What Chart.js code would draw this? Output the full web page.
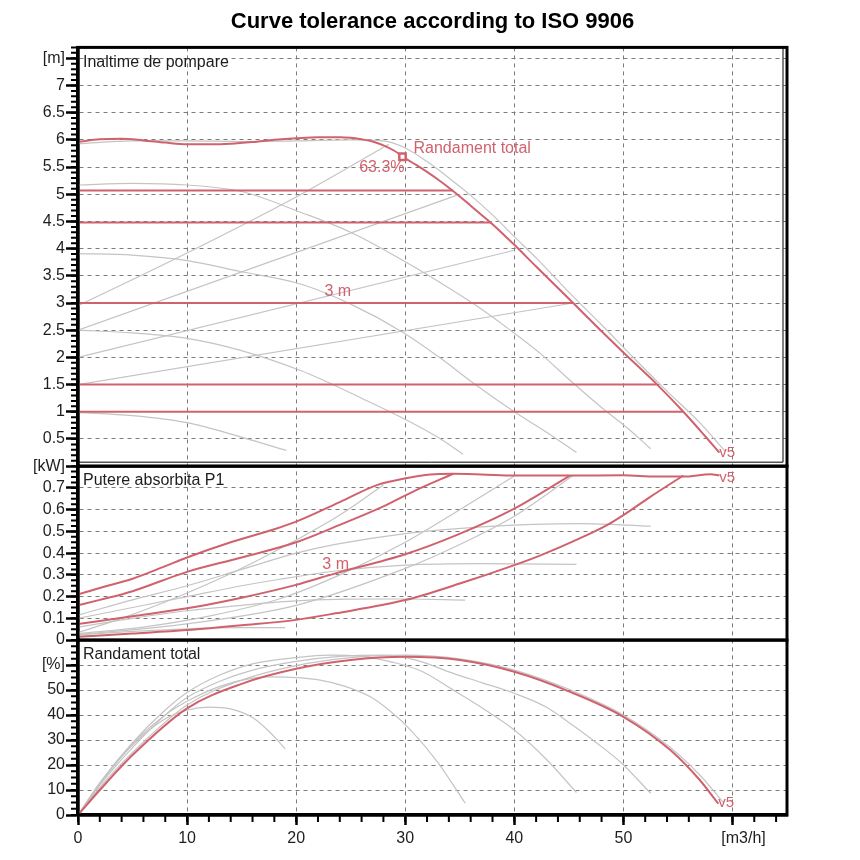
<!DOCTYPE html>
<html>
<head>
<meta charset="utf-8">
<script src="https://cdn.jsdelivr.net/npm/chart.js@4.4.1/dist/chart.umd.min.js"></script>
<style>
  body { margin: 0; background: #fff; }
  canvas { display: block; }
</style>
</head>
<body>
<canvas id="curves" width="860" height="860"></canvas>
<script>
const RED = "#d0626e";
const GRAY = "#c4c4c4";
const TEXT = "#1e1e1e";
const FONT = "'Liberation Sans', Arial, sans-serif";

// tick labels
const xTicks = [0, 10, 20, 30, 40, 50, 60];
const headTicks = [0.5, 1, 1.5, 2, 2.5, 3, 3.5, 4, 4.5, 5, 5.5, 6, 6.5, 7, 7.5];
const powerTicks = [0, 0.1, 0.2, 0.3, 0.4, 0.5, 0.6, 0.7, 0.8];
const effTicks = [0, 10, 20, 30, 40, 50, 60];

// Inaltime de pompare [m] - curba v5 (rosu) si curba reala (gri)
const qHeadV5 = [0, 2, 4, 6, 8, 10, 12, 14, 16, 18, 20, 22, 24, 25, 26, 27, 28, 29, 30, 31, 32, 33, 34, 35, 36, 37, 38, 40, 42, 45.4, 48, 50, 53.1, 55.5, 57.5, 58.8];
const headV5 = [5.96, 6.01, 6.02, 5.99, 5.95, 5.92, 5.92, 5.93, 5.96, 6.0, 6.03, 6.05, 6.05, 6.04, 6.01, 5.97, 5.9, 5.8, 5.66, 5.54, 5.41, 5.27, 5.12, 4.96, 4.79, 4.62, 4.45, 4.07, 3.67, 3.0, 2.48, 2.09, 1.5, 1.0, 0.55, 0.25];
const qHeadMax = [0, 5, 10, 15, 20, 25, 28, 30, 32, 34, 36, 38, 40, 42, 45, 48, 51, 54, 57, 59.3];
const headMax = [5.93, 5.98, 5.98, 5.97, 5.98, 6.0, 5.98, 5.85, 5.6, 5.3, 4.98, 4.62, 4.22, 3.83, 3.2, 2.6, 1.98, 1.38, 0.8, 0.28];
const qHead1 = [0, 5, 10, 14.9, 19.1];
const head1 = [0.99, 0.93, 0.8, 0.54, 0.29];
const qHead2 = [0, 5, 10, 14.9, 20.4, 22.5, 26, 30.2, 33, 35.3];
const head2 = [2.5, 2.45, 2.35, 2.13, 1.76, 1.58, 1.25, 0.84, 0.53, 0.22];
const qHead3 = [0, 5, 10, 14.9, 20.4, 25, 29.8, 33, 36.3, 40, 43, 45.7];
const head3 = [3.91, 3.88, 3.78, 3.58, 3.35, 2.98, 2.46, 2.02, 1.52, 1.0, 0.62, 0.25];
const qHead4 = [0, 5, 10, 15, 20.4, 25, 29.8, 33, 36.3, 39.5, 42.4, 45.1, 48, 50.5, 52.5];
const head4 = [5.17, 5.2, 5.17, 5.05, 4.67, 4.3, 3.78, 3.4, 2.98, 2.52, 2.07, 1.58, 1.08, 0.68, 0.32];
// curbe de sistem (gri)
const qSysA = [0, 10, 20, 28.5];
const sysA = [2.95, 3.92, 4.95, 5.92];
const qSysB = [0, 34.7];
const sysB = [2.5, 4.98];
const qSysC = [0, 40];
const sysC = [2.0, 3.97];
const qSysD = [0, 45.4];
const sysD = [1.5, 3.0];
// linii orizontale (rosu)
const levelHeads = [5.07, 4.48, 3.0, 1.5, 1.0];
const levelEnds = [34.4, 37.95, 45.4, 53.1, 55.5];
// punct de randament maxim
const bestQ = 29.75;
const bestHead = 5.69;
const bestEff = "63.3%";

// Putere absorbita P1 [kW]
const qPow1 = [0, 2, 5, 8, 10, 14, 18, 20, 24, 27.4, 30.2, 32.3, 34.4, 37, 40, 45, 50, 53, 55.5, 58, 58.8];
const pow1 = [0.21, 0.24, 0.282, 0.34, 0.38, 0.45, 0.51, 0.545, 0.635, 0.713, 0.746, 0.762, 0.765, 0.762, 0.757, 0.757, 0.758, 0.752, 0.752, 0.763, 0.757];
const qPow2 = [0, 2, 5, 10, 15, 20, 24, 28, 31, 34.4];
const pow2 = [0.16, 0.185, 0.225, 0.314, 0.38, 0.45, 0.53, 0.615, 0.69, 0.765];
const qPow3 = [0, 5, 10, 15, 19.9, 23.6, 30, 34.7, 40, 45.1];
const pow3 = [0.074, 0.11, 0.146, 0.195, 0.253, 0.307, 0.395, 0.483, 0.605, 0.757];
const qPow4 = [0, 5, 10, 15, 20, 23.6, 30, 35, 40, 42.4, 46, 48.5, 50, 52.5, 55.5];
const pow4 = [0.015, 0.03, 0.046, 0.068, 0.093, 0.123, 0.184, 0.26, 0.345, 0.39, 0.468, 0.529, 0.575, 0.66, 0.757];
const qPowG1 = [0, 5, 10, 15, 19];
const powG1 = [0.025, 0.04, 0.052, 0.057, 0.057];
const qPowG2 = [0, 5, 10, 15, 18.5, 24.7, 30, 35.5];
const powG2 = [0.06, 0.1, 0.135, 0.16, 0.176, 0.188, 0.189, 0.184];
const qPowG3 = [0, 5, 10, 15, 18.5, 24, 30, 36.9, 45.7];
const powG3 = [0.1, 0.15, 0.2, 0.25, 0.28, 0.32, 0.345, 0.352, 0.348];
const qPowG4 = [0, 5, 10, 15, 20, 23.6, 30, 37, 46, 52.5];
const powG4 = [0.115, 0.185, 0.25, 0.325, 0.4, 0.44, 0.49, 0.521, 0.536, 0.524];
const qPowSysA = [0, 4, 8, 12, 16, 20, 24, 28];
const powSysA = [0.035, 0.1, 0.175, 0.26, 0.355, 0.46, 0.575, 0.713];
const qPowSysC = [0, 6, 12, 18.5, 24, 30, 35, 40];
const powSysC = [0.03, 0.06, 0.11, 0.19, 0.3, 0.45, 0.6, 0.755];
const qPowSysD = [0, 10, 20, 30, 35, 40, 45.4];
const powSysD = [0.025, 0.075, 0.16, 0.33, 0.44, 0.57, 0.757];

// Randament total [%]
const qEffV5 = [0, 2, 5, 10, 15, 20, 25, 30, 35, 40, 45, 50, 54.3, 57, 58.7];
const effV5 = [0, 10, 24, 42.7, 52.5, 58.5, 62, 63.3, 62, 57.3, 49.5, 39.3, 26, 14, 4.5];
const qEffMax = [0, 2, 5, 10, 15, 20, 25, 30, 35, 40, 45, 50, 54.3, 57, 59.2];
const effMax = [0, 11, 25, 44, 54, 59.8, 63, 64, 62.5, 58, 50.3, 40, 27, 16, 4.8];
const qEff1 = [0, 2, 5, 8, 10, 12, 14, 16, 17.5, 19];
const eff1 = [0, 12.5, 28, 38.5, 42, 43.2, 42.5, 39, 33.5, 26.5];
const qEff2 = [0, 2, 5, 8, 10, 13, 16, 18, 20, 22.2, 24.5, 26.8, 28.5, 30.5, 33, 35.5];
const eff2 = [0, 12.5, 28.5, 40, 45.5, 51.5, 54.8, 55.3, 55, 54, 51.5, 47.3, 42, 34, 21, 4.7];
const qEff3 = [0, 2, 5, 8, 10, 13, 16, 20, 23, 26, 29, 31.5, 34.4, 37, 40, 43, 45.7];
const eff3 = [0, 13, 29, 42, 49, 56, 60.5, 63, 64, 63.5, 61, 57.5, 50, 43, 34, 22, 9];
const qEff4 = [0, 2, 5, 8, 10, 13, 16, 20, 24, 28, 31, 34.4, 37, 40, 43, 45.1, 47.5, 49.7, 52.5];
const eff4 = [0, 12, 27, 40, 47, 53.5, 58, 61.5, 63.5, 64, 62, 56.7, 53, 48.7, 43, 36.7, 29, 21.3, 8.7];

const datasets = [];

function addCurve(axis, qs, vs, color, width, smooth) {
  datasets.push({
    yAxisID: axis,
    data: qs.map((q, i) => ({ x: q, y: vs[i] })),
    borderColor: color,
    borderWidth: width,
    pointRadius: 0,
    fill: false,
    tension: 0,
    cubicInterpolationMode: smooth ? "monotone" : "default",
    order: color === RED ? 0 : 1,
  });
}

// gri
addCurve("yH", qHeadMax, headMax, GRAY, 1.2, true);
addCurve("yH", qHead1, head1, GRAY, 1.2, true);
addCurve("yH", qHead2, head2, GRAY, 1.2, true);
addCurve("yH", qHead3, head3, GRAY, 1.2, true);
addCurve("yH", qHead4, head4, GRAY, 1.2, true);
addCurve("yH", qSysA, sysA, GRAY, 1.2, true);
addCurve("yH", qSysB, sysB, GRAY, 1.2, false);
addCurve("yH", qSysC, sysC, GRAY, 1.2, false);
addCurve("yH", qSysD, sysD, GRAY, 1.2, false);
addCurve("yP", qPowG1, powG1, GRAY, 1.2, true);
addCurve("yP", qPowG2, powG2, GRAY, 1.2, true);
addCurve("yP", qPowG3, powG3, GRAY, 1.2, true);
addCurve("yP", qPowG4, powG4, GRAY, 1.2, true);
addCurve("yP", qPowSysA, powSysA, GRAY, 1.2, true);
addCurve("yP", qPowSysC, powSysC, GRAY, 1.2, true);
addCurve("yP", qPowSysD, powSysD, GRAY, 1.2, true);
addCurve("yE", qEffMax, effMax, GRAY, 1.2, true);
addCurve("yE", qEff1, eff1, GRAY, 1.2, true);
addCurve("yE", qEff2, eff2, GRAY, 1.2, true);
addCurve("yE", qEff3, eff3, GRAY, 1.2, true);
addCurve("yE", qEff4, eff4, GRAY, 1.2, true);

// rosu
addCurve("yH", qHeadV5, headV5, RED, 2, true);
levelHeads.forEach((h, i) => addCurve("yH", [0, levelEnds[i]], [h, h], RED, 2, false));
addCurve("yP", qPow1, pow1, RED, 2, true);
addCurve("yP", qPow2, pow2, RED, 2, true);
addCurve("yP", qPow3, pow3, RED, 2, true);
addCurve("yP", qPow4, pow4, RED, 2, true);
addCurve("yE", qEffV5, effV5, RED, 2, true);

datasets.push({
  yAxisID: "yH",
  data: [{ x: bestQ, y: bestHead }],
  showLine: false,
  pointStyle: "rect",
  pointRadius: 4.5,
  borderWidth: 2.5,
  borderColor: RED,
  backgroundColor: "#fff",
  order: -1,
});

function yScale(ticksList, max, weight, unit) {
  return {
    type: "linear",
    position: "left",
    stack: "panels",
    stackWeight: weight,
    min: 0,
    max: max,
    afterBuildTicks: s => { s.ticks = ticksList.map(v => ({ value: v })); },
    afterFit: s => { s.width = 78; },
    ticks: {
      autoSkip: false,
      padding: 1,
      color: TEXT,
      font: { size: 16 },
      callback: v => (v === ticksList[ticksList.length - 1] ? unit : String(v)),
    },
    grid: { color: "#7a7a7a", lineWidth: 1, tickLength: 12, tickWidth: 2.5, tickColor: "#000", tickBorderDash: [] },
    border: { color: "#000", width: 3.5, dash: [4, 4] },
  };
}

// ticks mici, chenare
const frames = {
  id: "frames",
  afterDraw(chart) {
    const { ctx, chartArea: a, scales: s } = chart;
    ctx.save();
    ctx.strokeStyle = "#000";
    ctx.lineWidth = 2;
    ctx.beginPath();
    [["yH", 0.1], ["yP", 0.025], ["yE", 2.5]].forEach(([id, step]) => {
      const sc = s[id];
      for (let i = 0; i * step <= sc.max + 1e-9; i++) {
        const y = sc.getPixelForValue(i * step);
        ctx.moveTo(a.left - 7, y);
        ctx.lineTo(a.left, y);
      }
    });
    for (let v = 0; v <= 64; v += 2) {
      const px = s.x.getPixelForValue(v);
      ctx.moveTo(px, a.bottom);
      ctx.lineTo(px, a.bottom + 7);
    }
    ctx.stroke();

    ctx.lineWidth = 3;
    ["yH", "yP", "yE"].forEach(id => {
      ctx.strokeRect(a.left, s[id].top, a.right - a.left, s[id].bottom - s[id].top);
    });
    ctx.lineWidth = 1;
    ctx.beginPath();
    ctx.moveTo(a.right - 4, s.yH.top);
    ctx.lineTo(a.right - 4, s.yH.bottom - 4);
    ctx.lineTo(a.left, s.yH.bottom - 4);
    ctx.stroke();
    ctx.restore();
  },
};

// texte pe grafic
const notes = {
  id: "notes",
  afterDatasetsDraw(chart) {
    const { ctx, chartArea: a, scales: s } = chart;
    const px = q => s.x.getPixelForValue(q);
    ctx.save();
    ctx.font = "16px " + FONT;
    ctx.textBaseline = "middle";
    ctx.textAlign = "left";
    ctx.fillStyle = TEXT;
    ctx.fillText("Inaltime de pompare", a.left + 5, s.yH.top + 15);
    ctx.fillText("Putere absorbita P1", a.left + 5, s.yP.top + 14);
    ctx.fillText("Randament total", a.left + 5, s.yE.top + 15);

    ctx.fillStyle = RED;
    const bx = px(bestQ);
    const by = s.yH.getPixelForValue(bestHead);
    ctx.fillText("Randament total", bx + 11, by - 8);
    ctx.textAlign = "right";
    ctx.fillText(bestEff, bx + 2, by + 11);
    ctx.textAlign = "left";
    ctx.fillText("3 m", px(22.6), s.yH.getPixelForValue(3.21));
    ctx.fillText("3 m", px(22.4), s.yP.getPixelForValue(0.345));
    ctx.font = "15px " + FONT;
    const last = arr => arr[arr.length - 1];
    ctx.fillText("v5", px(last(qHeadV5)), s.yH.getPixelForValue(last(headV5)));
    ctx.fillText("v5", px(last(qPow1)), s.yP.getPixelForValue(last(pow1)) + 2);
    ctx.fillText("v5", px(last(qEffV5)), s.yE.getPixelForValue(last(effV5)) - 1);
    ctx.restore();
  },
};

Chart.defaults.font.family = FONT;

new Chart(document.getElementById("curves"), {
  type: "line",
  data: { datasets },
  options: {
    responsive: false,
    animation: false,
    events: [],
    layout: { padding: { left: 0, right: 73, top: 0, bottom: 0 } },
    plugins: {
      legend: { display: false },
      tooltip: { enabled: false },
      title: {
        display: true,
        fullSize: false,
        text: "Curve tolerance according to ISO 9906",
        color: "#000",
        font: { size: 22, weight: "bold" },
        padding: { top: 9, bottom: 12 },
      },
    },
    scales: {
      x: {
        type: "linear",
        min: 0,
        max: 65,
        afterBuildTicks: s => { s.ticks = xTicks.map(v => ({ value: v })); },
        afterFit: s => { s.height = 45; },
        ticks: {
          autoSkip: false,
          maxRotation: 0,
          padding: 4,
          color: TEXT,
          font: { size: 16 },
          callback: v => (v === 60 ? "     [m3/h]" : String(v)),
        },
        grid: { color: "#7a7a7a", lineWidth: 1, tickLength: 10, tickWidth: 2.5, tickColor: "#000", tickBorderDash: [] },
        border: { color: "#000", width: 3.5, dash: [4, 4] },
      },
      yE: yScale(effTicks, 70, 175, "[%]"),
      yP: yScale(powerTicks, 0.8, 174, "[kW]"),
      yH: yScale(headTicks, 7.7, 419, "[m]"),
    },
  },
  plugins: [frames, notes],
});
</script>
</body>
</html>
